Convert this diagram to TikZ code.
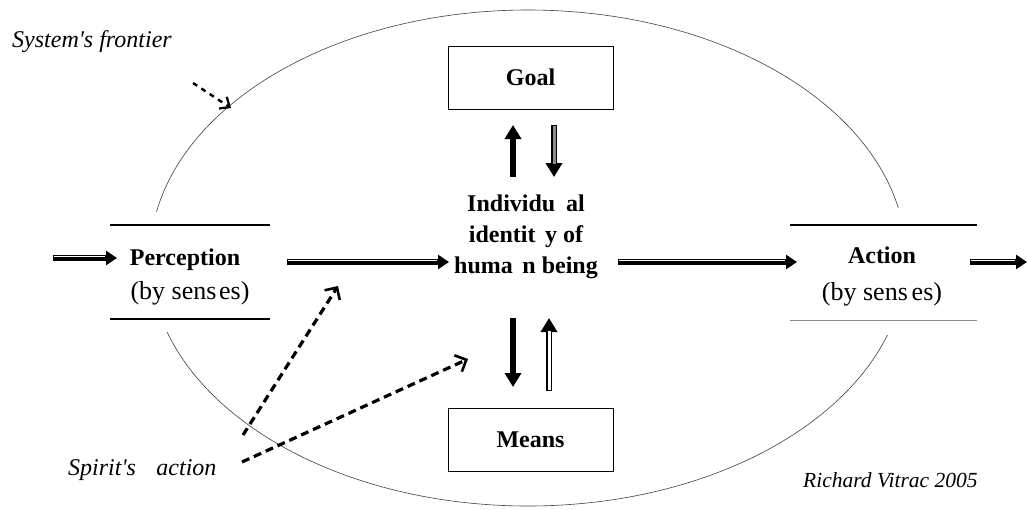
\documentclass[tikz,border=0pt]{standalone}
\usepackage{fontspec}
\setmainfont{Liberation Serif}
\newfontfamily\notefont{Liberation Serif}
\usetikzlibrary{arrows.meta}
\begin{document}
\begin{tikzpicture}[x=1pt,y=-1pt,
  lbl/.style={font=\fontsize{24}{31}\selectfont\bfseries, align=center, inner sep=0pt},
  sub/.style={font=\fontsize{26}{30}\selectfont, inner sep=0pt, anchor=base},
  head/.style={font=\fontsize{24}{28}\selectfont\bfseries, inner sep=0pt, anchor=base},
  note/.style={font=\notefont\fontsize{24}{28}\selectfont\itshape, inner sep=0pt, anchor=base west},
  box/.style={draw, fill=white, line width=0.8pt, minimum width=165pt, minimum height=63pt, inner sep=0pt, font=\fontsize{24}{28}\selectfont\bfseries},
  bar/.style={line width=2.5pt},
  frontier/.style={line width=0.6pt, draw=black!75},
  flow/.style={line width=5.5pt, -{Triangle[length=11pt,width=14pt]},
    postaction={draw=white, line width=0.8pt, -, shorten >=12pt, shorten <=1pt, transform canvas={yshift=1.4pt}}},
  vblack/.style={line width=6.5pt, -{Triangle[length=14pt,width=16pt]}},
  vhollow/.style={line width=6.5pt, -{Triangle[length=14pt,width=16pt]},
    postaction={draw=#1, line width=3pt, -, shorten >=13pt, shorten <=1.2pt}},
  spirit/.style={line width=3.2pt, dash pattern=on 8pt off 5pt, -{Straight Barb[length=9pt,width=18pt,line width=2.6pt]}},
]
\useasboundingbox (0,0) rectangle (1027,509);
% system frontier
\draw[frontier] (528,258) ellipse [x radius=378, y radius=248];
% white covers for perception and action blocks
\fill[white] (108,212) rectangle (272,332);
\fill[white] (788,208) rectangle (979,335);
% perception block
\draw[bar] (110,225) -- (270,225);
\draw[bar] (110,319) -- (270,319);
\node[head] (perc) at (185,265) {Perception};
\node[sub] (percsub) at (190,299) {(by sens\hspace{0.1em}es)};
% action block
\draw[bar] (790,225) -- (977,225);
\draw[line width=0.7pt, draw=black!45] (790,320) -- (977,320);
\node[head] (act) at (882,263) {Action};
\node[sub] (actsub) at (882,300) {(by sens\hspace{0.15em}es)};
% centre
\node[lbl] (ident) at (526,237) {Individu\hspace{0.2em} al\\identit\hspace{0.15em} y of\\huma\hspace{0.15em} n being};
% goal and means
\node[box] (goal) at (530.5,77.5) {Goal};
\node[box] (means) at (530.5,440) {Means};
% coordinates of arrow ends
\coordinate (inA) at (53,258);
\coordinate (inB) at (117,258);
\coordinate (pOut) at (287,262);
\coordinate (iIn) at (449,262);
\coordinate (iOut) at (618,262);
\coordinate (aIn) at (797,262);
\coordinate (aOut) at (970,262);
\coordinate (outEnd) at (1027,262);
\coordinate (gUpA) at (513,177);
\coordinate (gUpB) at (513,125);
\coordinate (gDnA) at (554,125);
\coordinate (gDnB) at (554,177);
\coordinate (mDnA) at (513,318);
\coordinate (mDnB) at (513,387);
\coordinate (mUpA) at (549,391);
\coordinate (mUpB) at (549,318);
% horizontal flows
\draw[flow] (inA) -- (inB);
\draw[flow] (pOut) -- (iIn);
\draw[flow] (iOut) -- (aIn);
\draw[flow] (aOut) -- (outEnd);
% vertical flows
\draw[vblack] (gUpA) -- (gUpB);
\draw[vhollow=black!45] (gDnA) -- (gDnB);
\draw[vblack] (mDnA) -- (mDnB);
\draw[vhollow=white] (mUpA) -- (mUpB);
% annotations
\node[note] (sysf) at (12,47) {System's frontier};
\node[note] (spir) at (68,475) {Spirit's\hspace{0.6em} action};
\node[note, font=\notefont\fontsize{21.5}{24}\selectfont\itshape] (author) at (803,487) {Richard Vitrac 2005};
\coordinate (sfA) at (193,83);
\coordinate (sfB) at (231,108);
\draw[line width=2.4pt, dash pattern=on 5pt off 5pt, -{Straight Barb[length=8pt,width=14pt,line width=2.2pt]}] (sfA) -- (sfB);
\coordinate (spA) at (243,435);
\coordinate (spB) at (338,286);
\coordinate (spC) at (242,462);
\coordinate (spD) at (468,359);
\draw[spirit] (spA) -- (spB);
\draw[spirit] (spC) -- (spD);
\end{tikzpicture}
\end{document}
